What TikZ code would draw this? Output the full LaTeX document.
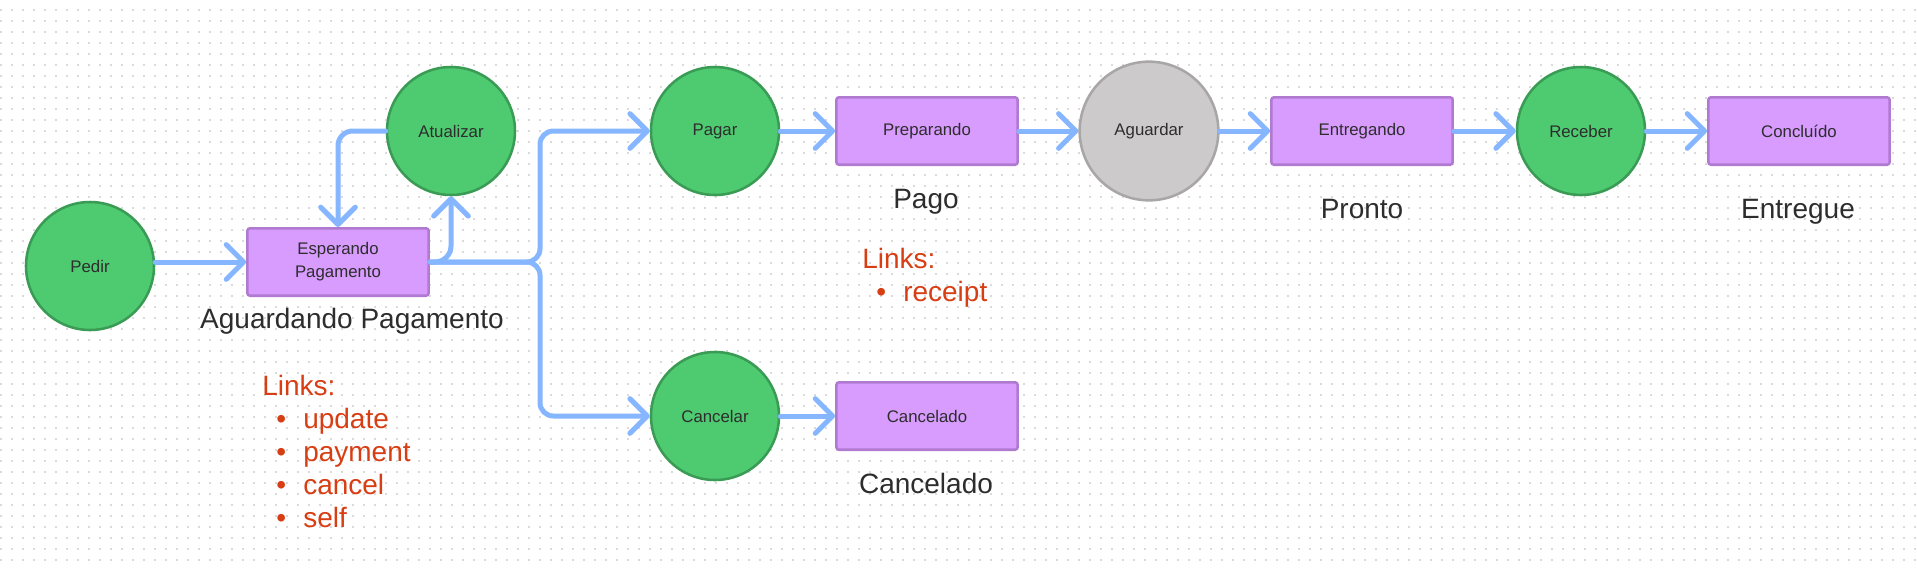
\documentclass[tikz,border=0pt]{standalone}
\usepackage{fontspec}
\setmainfont{Liberation Sans}
\usetikzlibrary{arrows.meta,calc}
\definecolor{gfill}{HTML}{4ECB71}
\definecolor{gdraw}{HTML}{3A9B55}
\definecolor{pfill}{HTML}{D89BFE}
\definecolor{pdraw}{HTML}{B07AD1}
\definecolor{afill}{HTML}{CCCACA}
\definecolor{adraw}{HTML}{A8A6A6}
\definecolor{conncol}{HTML}{85B6FF}
\definecolor{redtxt}{HTML}{D83E14}
\definecolor{txt}{HTML}{2D2D2D}
\definecolor{dotcol}{HTML}{DADADA}
\newcommand\fsmall{\fontsize{12.6}{17.25}\selectfont}
\newcommand\fbig{\fontsize{21}{24.75}\selectfont}
\newcommand\lnkitem[1]{\hspace*{10.5pt}\makebox[20.25pt][l]{\textbullet}#1}
\begin{document}
\begin{tikzpicture}[x=0.75pt,y=-0.75pt,
  state/.style={circle, fill=gfill, draw=gdraw, line width=1.9pt, minimum size=96pt, inner sep=0pt, font=\fsmall, text=txt},
  waitstate/.style={state, fill=afill, draw=adraw, minimum size=104pt},
  statusbox/.style={rectangle, rounded corners=2pt, fill=pfill, draw=pdraw, line width=1.9pt, minimum width=136pt, minimum height=50.6pt, align=center, font=\fsmall, text=txt},
  biglabel/.style={font=\fbig, text=txt, inner sep=0pt, anchor=base},
  linklist/.style={font=\fbig, text=redtxt, inner sep=0pt, anchor=base west},
  conn/.style={draw=conncol, line width=3.75pt, line cap=round, line join=round, -{Straight Barb[length=13pt,width=26pt,round]}},
]
\useasboundingbox (0,0) rectangle (1917,569);
\fill[white] (0,0) rectangle (1917,569);
\foreach \r in {0,...,50}{
  \draw[dotcol, line width=1.1pt, dash pattern=on 1.1pt off 7.15pt] (0.3,{10+11*\r}) -- (1917,{10+11*\r});
}
% nodes
\node[state] (pedir) at (90,266) {Pedir};
\node[state] (atu) at (451,131) {Atualizar};
\node[statusbox] (esp) at (338,262) {Esperando\\Pagamento};
\node[state] (pagar) at (715,131) {Pagar};
\node[statusbox] (prep) at (927,131) {Preparando};
\node[waitstate] (aguard) at (1149,131) {Aguardar};
\node[statusbox] (entr) at (1362,131) {Entregando};
\node[state] (receb) at (1581,131) {Receber};
\node[statusbox] (concl) at (1799,131) {Concluído};
\node[state] (canc) at (715,416) {Cancelar};
\node[statusbox] (cancdo) at (927,416) {Cancelado};
\coordinate (split) at (540,262);
% labels
\node[biglabel] (aglab) at (352,328) {Aguardando Pagamento};
\node[biglabel] (pagolab) at (926,208) {Pago};
\node[biglabel] (prontolab) at (1362,218) {Pronto};
\node[biglabel] (entreglab) at (1798,218) {Entregue};
\node[biglabel] (canclab) at (926,493) {Cancelado};
\node[linklist] (links1) at (262,395) {\begin{tabular}[t]{@{}l@{}}Links:\\\lnkitem{update}\\\lnkitem{payment}\\\lnkitem{cancel}\\\lnkitem{self}\end{tabular}};
\node[linklist] (links2) at (862,268) {\begin{tabular}[t]{@{}l@{}}Links:\\\lnkitem{receipt}\end{tabular}};
% connectors
\draw[conn] (pedir.east |- esp.west) -- (esp.west);
\draw[conn, rounded corners=11pt] (atu.west) -| (esp.north);
\draw[conn, rounded corners=12pt] (esp.east) -| (atu.south);
\draw[conn, rounded corners=10pt] (esp.east) -- (split) |- (pagar.west);
\draw[conn, rounded corners=10pt] (esp.east) -- (split) |- (canc.west);
\draw[conn] (pagar) -- (prep);
\draw[conn] (prep) -- (aguard);
\draw[conn] (aguard) -- (entr);
\draw[conn] (entr) -- (receb);
\draw[conn] (receb) -- (concl);
\draw[conn] (canc) -- (cancdo);
\end{tikzpicture}
\end{document}
